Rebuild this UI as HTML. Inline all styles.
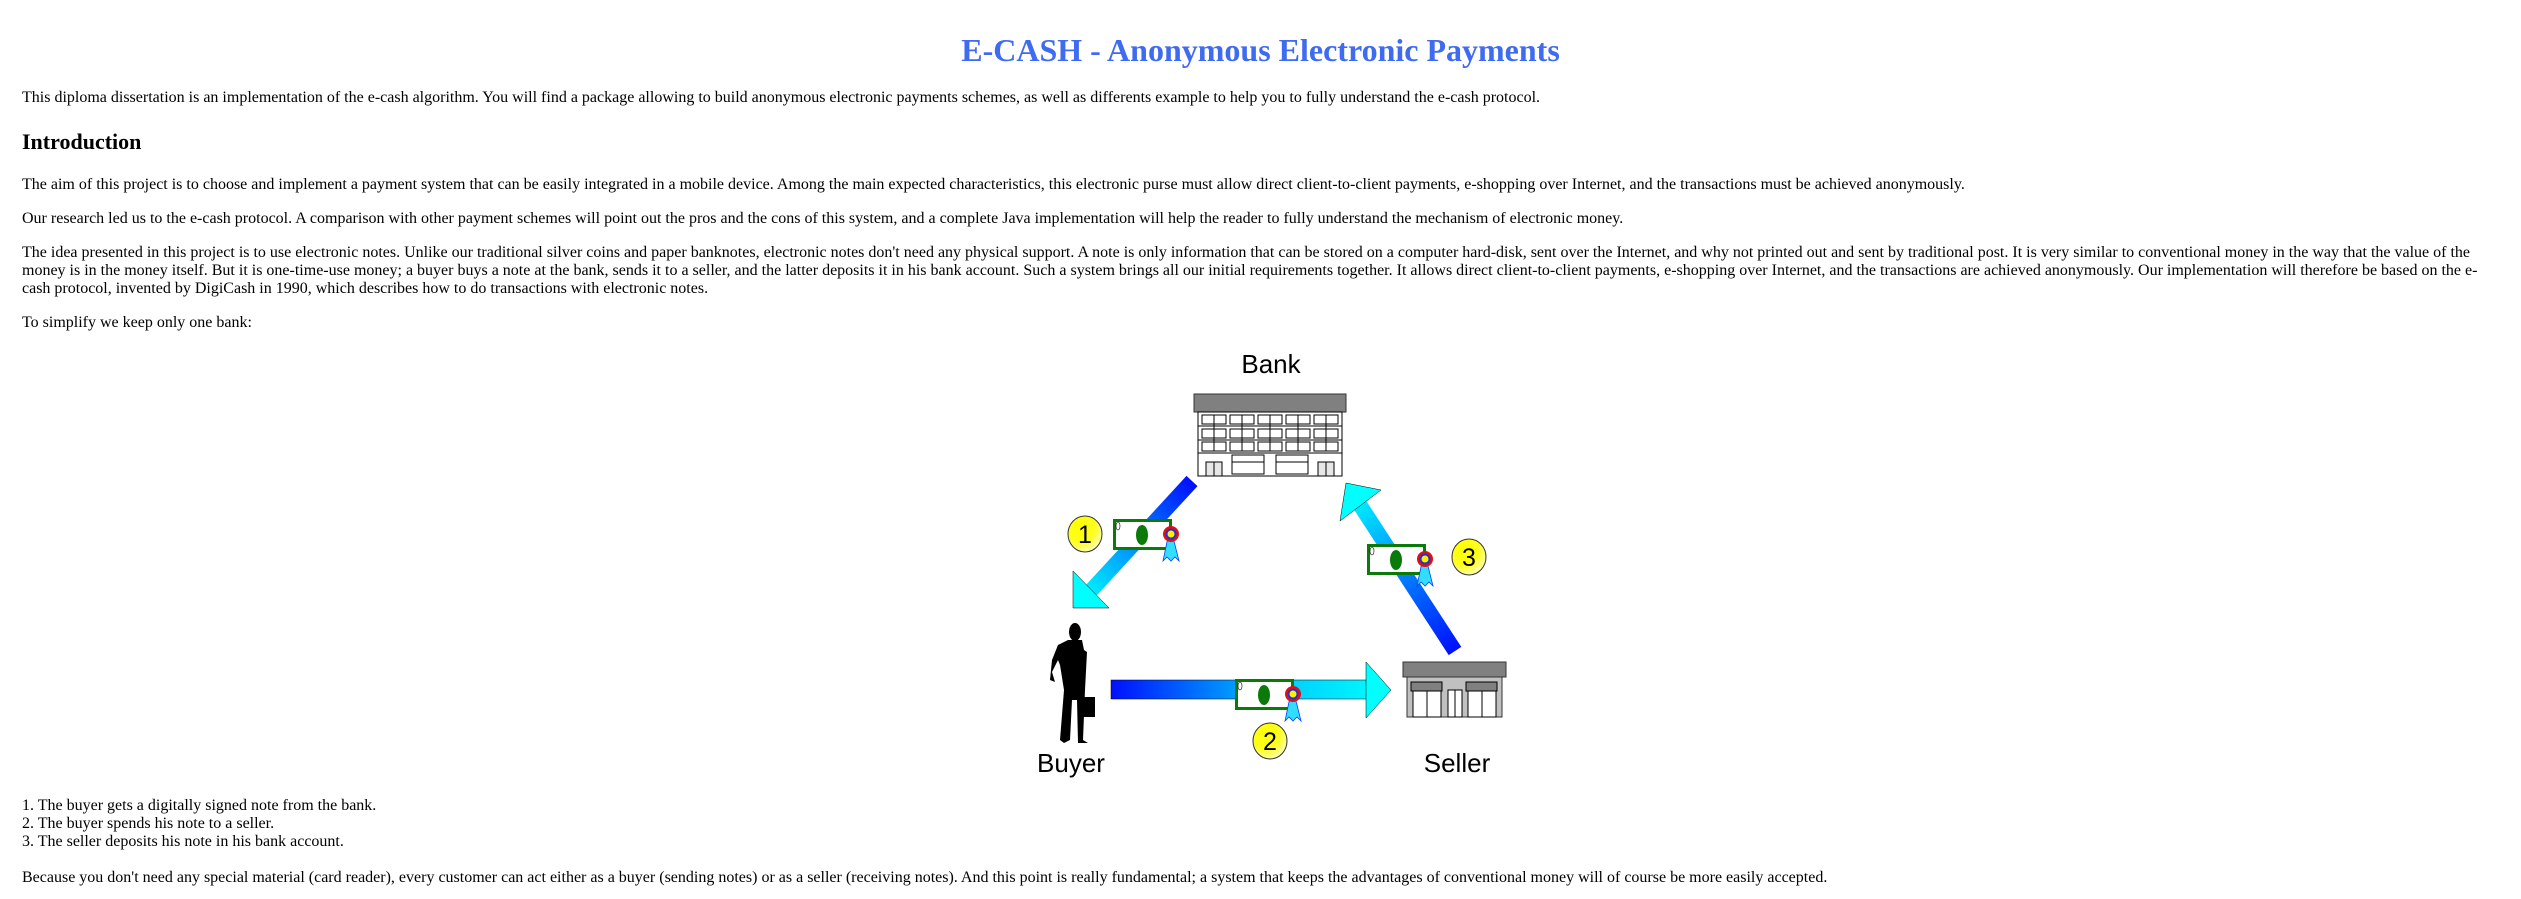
<!DOCTYPE html>
<html><head><meta charset="utf-8"><style>
body{margin:0;width:2521px;height:899px;background:#fff;position:relative;overflow:hidden;font-family:"Liberation Serif",serif;font-size:16px;color:#000}
.t{position:absolute;left:22px;right:22px;line-height:18px;white-space:nowrap}
h1{position:absolute;left:0;right:0;top:30px;margin:0;text-align:center;font-size:32px;line-height:40px;color:#3f6bf2;font-weight:bold}
h2{position:absolute;left:22px;top:128px;margin:0;font-size:22px;line-height:28px;font-weight:bold}
svg{position:absolute;left:0;top:0}
</style></head><body>
<h1>E-CASH - Anonymous Electronic Payments</h1>
<div class="t" style="top:89px">This diploma dissertation is an implementation of the e-cash algorithm. You will find a package allowing to build anonymous electronic payments schemes, as well as differents example to help you to fully understand the e-cash protocol.</div>
<h2>Introduction</h2>
<div class="t" style="top:176px">The aim of this project is to choose and implement a payment system that can be easily integrated in a mobile device. Among the main expected characteristics, this electronic purse must allow direct client-to-client payments, e-shopping over Internet, and the transactions must be achieved anonymously.</div>
<div class="t" style="top:210px">Our research led us to the e-cash protocol. A comparison with other payment schemes will point out the pros and the cons of this system, and a complete Java implementation will help the reader to fully understand the mechanism of electronic money.</div>
<div class="t" style="top:244px;white-space:normal">The idea presented in this project is to use electronic notes. Unlike our traditional silver coins and paper banknotes, electronic notes don't need any physical support. A note is only information that can be stored on a computer hard-disk, sent over the Internet, and why not printed out and sent by traditional post. It is very similar to conventional money in the way that the value of the money is in the money itself. But it is one-time-use money; a buyer buys a note at the bank, sends it to a seller, and the latter deposits it in his bank account. Such a system brings all our initial requirements together. It allows direct client-to-client payments, e-shopping over Internet, and the transactions are achieved anonymously. Our implementation will therefore be based on the e-cash protocol, invented by DigiCash in 1990, which describes how to do transactions with electronic notes.</div>
<div class="t" style="top:314px">To simplify we keep only one bank:</div>
<div class="t" style="top:797px">1. The buyer gets a digitally signed note from the bank.<br>2. The buyer spends his note to a seller.<br>3. The seller deposits his note in his bank account.</div>
<div class="t" style="top:869px">Because you don't need any special material (card reader), every customer can act either as a buyer (sending notes) or as a seller (receiving notes). And this point is really fundamental; a system that keeps the advantages of conventional money will of course be more easily accepted.</div>

<svg width="2521" height="899" viewBox="0 0 2521 899" font-family="Liberation Sans, sans-serif">
<defs>
<linearGradient id="g1" gradientUnits="userSpaceOnUse" x1="1191" y1="482" x2="1080" y2="600"><stop offset="0" stop-color="#0010ff"/><stop offset="1" stop-color="#00ffff"/></linearGradient>
<linearGradient id="g3" gradientUnits="userSpaceOnUse" x1="1454" y1="650" x2="1350" y2="490"><stop offset="0" stop-color="#0010ff"/><stop offset="1" stop-color="#00ffff"/></linearGradient>
<linearGradient id="g2" gradientUnits="userSpaceOnUse" x1="1111" y1="0" x2="1391" y2="0"><stop offset="0" stop-color="#0010ff"/><stop offset="0.6" stop-color="#00ccff"/><stop offset="1" stop-color="#00ffff"/></linearGradient>
<radialGradient id="cy" cx="0.35" cy="0.3" r="0.8"><stop offset="0" stop-color="#ffff00"/><stop offset="0.55" stop-color="#ffff20"/><stop offset="1" stop-color="#ffffd0"/></radialGradient>
<g id="note">
<rect x="1.5" y="1.5" width="56" height="28" fill="#fff" stroke="#0a7a0a" stroke-width="3"/>
<ellipse cx="29" cy="16" rx="6" ry="10" fill="#0a7a0a"/>
<ellipse cx="5" cy="7" rx="2" ry="4" fill="#fff" stroke="#000" stroke-width="0.6"/>
<path d="M55 18 L50 42 L54 38 L58 42 L62 38 L66 42 L60 18 Z" fill="#33ddff" stroke="#0044ff" stroke-width="0.8"/>
<circle cx="58" cy="15" r="8" fill="#e21010"/>
<circle cx="58" cy="15" r="5.5" fill="#2233cc"/>
<circle cx="58" cy="15" r="3.5" fill="#ffee00"/>
</g>
<g id="circ"><ellipse cx="0" cy="0" rx="17" ry="18" fill="url(#cy)" stroke="#333" stroke-width="1"/></g>
</defs>

<!-- Bank -->
<text x="1271" y="373" font-size="26" text-anchor="middle">Bank</text>
<rect x="1194" y="394" width="152" height="18" fill="#808080" stroke="#333"/>
<rect x="1198" y="412" width="144" height="64" fill="#fff" stroke="#000"/>
<g fill="#fff" stroke="#000" stroke-width="1">
<line x1="1198" y1="426" x2="1342" y2="426"/><line x1="1198" y1="440" x2="1342" y2="440"/><line x1="1198" y1="453" x2="1342" y2="453"/>
<rect x="1202" y="415" width="24" height="9"/><rect x="1230" y="415" width="24" height="9"/><rect x="1258" y="415" width="24" height="9"/><rect x="1286" y="415" width="24" height="9"/><rect x="1314" y="415" width="24" height="9"/>
<rect x="1202" y="429" width="24" height="9"/><rect x="1230" y="429" width="24" height="9"/><rect x="1258" y="429" width="24" height="9"/><rect x="1286" y="429" width="24" height="9"/><rect x="1314" y="429" width="24" height="9"/>
<rect x="1202" y="442" width="24" height="9"/><rect x="1230" y="442" width="24" height="9"/><rect x="1258" y="442" width="24" height="9"/><rect x="1286" y="442" width="24" height="9"/><rect x="1314" y="442" width="24" height="9"/>
<line x1="1214" y1="415" x2="1214" y2="451"/><line x1="1242" y1="415" x2="1242" y2="451"/><line x1="1270" y1="415" x2="1270" y2="451"/><line x1="1298" y1="415" x2="1298" y2="451"/><line x1="1326" y1="415" x2="1326" y2="451"/>
<rect x="1232" y="455" width="32" height="19"/><rect x="1276" y="455" width="32" height="19"/>
<line x1="1232" y1="462" x2="1264" y2="462"/><line x1="1276" y1="462" x2="1308" y2="462"/>
<rect x="1206" y="462" width="16" height="14" fill="#e6e6e6"/><rect x="1318" y="462" width="16" height="14" fill="#e6e6e6"/>
<line x1="1214" y1="462" x2="1214" y2="476"/><line x1="1326" y1="462" x2="1326" y2="476"/>
</g>

<!-- Arrow 1 -->
<line x1="1192" y1="481" x2="1086" y2="596" stroke="url(#g1)" stroke-width="15"/>
<polygon points="1073,608 1073,571 1109,608" fill="#00ffff" stroke="#000" stroke-width="0.5"/>
<!-- Arrow 3 -->
<line x1="1455" y1="651" x2="1358" y2="502" stroke="url(#g3)" stroke-width="15"/>
<polygon points="1346,483 1340,521 1381,490" fill="#00ffff" stroke="#000" stroke-width="0.5"/>
<!-- Arrow 2 -->
<rect x="1111" y="680" width="256" height="19" fill="url(#g2)" stroke="#000" stroke-width="0.5"/>
<polygon points="1366,662 1391,690 1366,718" fill="#00ffff" stroke="#000" stroke-width="0.5"/>

<!-- Notes -->
<use href="#note" x="1113" y="519"/>
<use href="#note" x="1367" y="544"/>
<use href="#note" x="1235" y="679"/>

<!-- Circles -->
<use href="#circ" x="1085" y="534"/><text x="1085" y="543" font-size="25" text-anchor="middle">1</text>
<use href="#circ" x="1469" y="557"/><text x="1469" y="566" font-size="25" text-anchor="middle">3</text>
<use href="#circ" x="1270" y="741"/><text x="1270" y="750" font-size="25" text-anchor="middle">2</text>

<!-- Buyer -->
<g fill="#000">
<ellipse cx="1075" cy="632" rx="6" ry="9"/>
<path d="M1068 640 L1082 640 L1084 650 L1087 652 L1085 690 L1083 740 L1088 743 L1078 743 L1077 700 L1072 700 L1070 740 L1064 743 L1060 740 L1064 690 L1060 665 L1058 660 L1052 672 L1055 682 L1050 680 L1052 660 L1058 645 Z"/>
<rect x1="0" x="1082" y="697" width="13" height="20"/>
</g>
<text x="1071" y="772" font-size="26" text-anchor="middle">Buyer</text>

<!-- Seller shop -->
<rect x="1403" y="662" width="103" height="15" fill="#808080" stroke="#333"/>
<rect x="1407" y="677" width="95" height="40" fill="#c0c0c0" stroke="#333"/>
<g stroke="#000" stroke-width="1">
<rect x="1411" y="682" width="31" height="9" fill="#808080"/><rect x="1466" y="682" width="31" height="9" fill="#808080"/>
<rect x="1413" y="691" width="28" height="26" fill="#fff"/><rect x="1468" y="691" width="28" height="26" fill="#fff"/>
<line x1="1427" y1="691" x2="1427" y2="717"/><line x1="1482" y1="691" x2="1482" y2="717"/>
<rect x="1448" y="690" width="14" height="27" fill="#fff"/><line x1="1455" y1="690" x2="1455" y2="717"/>
</g>
<text x="1457" y="772" font-size="26" text-anchor="middle">Seller</text>
</svg>
</body></html>
